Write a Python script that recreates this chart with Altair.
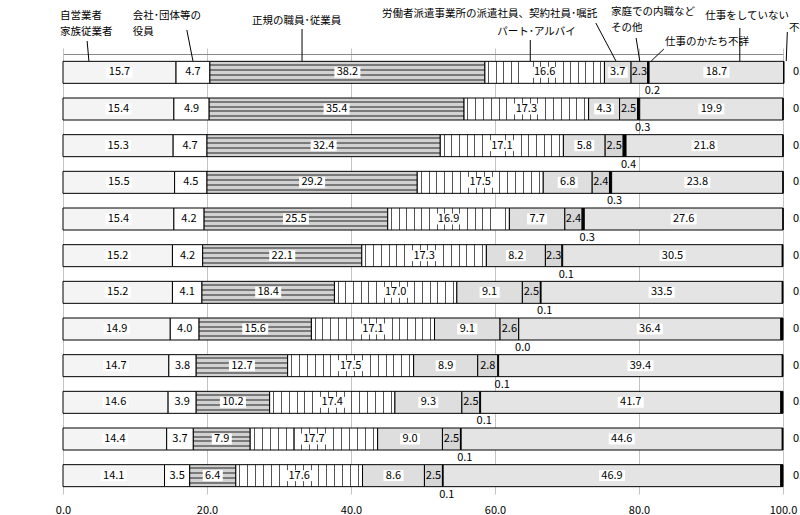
import altair as alt
import pandas as pd

# ---------------- data ----------------
rounds = ["第1回", "第2回", "第3回", "第4回", "第5回", "第6回",
          "第7回", "第8回", "第9回", "第10回", "第11回", "第12回"]
categories = ["自営業者・家族従業者", "会社・団体等の役員", "正規の職員・従業員",
              "パート・アルバイト", "派遣社員・契約社員・嘱託", "家庭での内職など・その他",
              "仕事のかたち不詳", "仕事をしていない", "不詳"]
jiei = [15.7, 15.4, 15.3, 15.5, 15.4, 15.2, 15.2, 14.9, 14.7, 14.6, 14.4, 14.1]
yakuin = [4.7, 4.9, 4.7, 4.5, 4.2, 4.2, 4.1, 4.0, 3.8, 3.9, 3.7, 3.5]
seiki = [38.2, 35.4, 32.4, 29.2, 25.5, 22.1, 18.4, 15.6, 12.7, 10.2, 7.9, 6.4]
part = [16.6, 17.3, 17.1, 17.5, 16.9, 17.3, 17.0, 17.1, 17.5, 17.4, 17.7, 17.6]
haken = [3.7, 4.3, 5.8, 6.8, 7.7, 8.2, 9.1, 9.1, 8.9, 9.3, 9.0, 8.6]
naishoku = [2.3, 2.5, 2.5, 2.4, 2.4, 2.3, 2.5, 2.6, 2.8, 2.5, 2.5, 2.5]
katachi = [0.2, 0.3, 0.4, 0.3, 0.3, 0.1, 0.1, 0.0, 0.1, 0.1, 0.1, 0.1]
mushoku = [18.7, 19.9, 21.8, 23.8, 27.6, 30.5, 33.5, 36.4, 39.4, 41.7, 44.6, 46.9]
fusho = [0.0, 0.0, 0.0, 0.0, 0.0, 0.1, 0.1, 0.3, 0.1, 0.3, 0.1, 0.3]
x_ticks = [0, 20, 40, 60, 80, 100]

series = [jiei, yakuin, seiki, part, haken, naishoku, katachi, mushoku, fusho]

rows = []
for i, rnd in enumerate(rounds):
    cum = 0.0
    for cat, s in zip(categories, series):
        v = s[i]
        rows.append(dict(round=rnd, cat=cat, value=v, start=cum, end=cum + v,
                         mid=cum + v / 2, label=f"{v:.1f}", wide=v >= 10))
        cum += v
df = pd.DataFrame(rows)

FONT = "Noto Sans CJK JP"

# ---------------- fills ----------------
def vstripes(n, w, line, bg):
    stops = [alt.GradientStop(offset=0, color=bg)]
    for k in range(n):
        c = (k + 0.5) / n
        stops += [alt.GradientStop(offset=c - w, color=bg),
                  alt.GradientStop(offset=c - w, color=line),
                  alt.GradientStop(offset=c + w, color=line),
                  alt.GradientStop(offset=c + w, color=bg)]
    stops.append(alt.GradientStop(offset=1, color=bg))
    return alt.LinearGradient(gradient="linear", stops=stops, x1=0, x2=1, y1=0, y2=0)

def hbands(centers, w, line, bg):
    stops = [alt.GradientStop(offset=0, color=bg)]
    for c in centers:
        stops += [alt.GradientStop(offset=c - w, color=bg),
                  alt.GradientStop(offset=c - w, color=line),
                  alt.GradientStop(offset=c + w, color=line),
                  alt.GradientStop(offset=c + w, color=bg)]
    stops.append(alt.GradientStop(offset=1, color=bg))
    return alt.LinearGradient(gradient="linear", stops=stops, x1=0, x2=0, y1=0, y2=1)

fills = {
    categories[0]: "#f4f4f4",
    categories[1]: "#ffffff",
    categories[2]: hbands([0.16, 0.39, 0.61, 0.84], 0.045, "#7a7a7a", "#d2d2d2"),
    categories[3]: vstripes(16, 0.004, "#555555", "#ffffff"),
    categories[4]: "#dedede",
    categories[5]: "#d6d6d6",
    categories[6]: "#000000",
    categories[7]: "#e4e4e4",
    categories[8]: "#000000",
}

# ---------------- encodings ----------------
x_scale = alt.Scale(domain=[0, 100], nice=False, zero=True)
y_scale = alt.Scale(paddingInner=0.4, paddingOuter=0.2)

bottom_axis = alt.Axis(orient="bottom", values=x_ticks, format=".1f", title=None,
                       domain=False, ticks=False, grid=True, gridColor="#c4c4c4",
                       labelFlush=False, labelPadding=10, labelFontSize=11,
                       labelColor="#000", labelFont=FONT)
top_axis = alt.Axis(orient="top", values=x_ticks, title=None, labels=False,
                    domain=True, domainColor="#8a8a8a", ticks=True, tickSize=6,
                    tickColor="#c4c4c4", grid=False)
y_axis = alt.Axis(title=None, ticks=False, domainColor="#8a8a8a", labelPadding=14,
                  labelFontSize=12, labelColor="#000", labelFont=FONT)

y_main = alt.Y("round:N", sort=rounds, scale=y_scale, axis=y_axis)
y_plain = alt.Y("round:N", sort=rounds, axis=None)

base = alt.Chart(df)
layers = []
for k, cat in enumerate(categories):
    if k == 0:
        xe, ye = alt.X("start:Q", scale=x_scale, axis=bottom_axis), y_main
    elif k == 1:
        xe, ye = alt.X("start:Q", axis=top_axis), y_plain
    else:
        xe, ye = alt.X("start:Q", axis=None), y_plain
    layers.append(
        base.transform_filter(alt.datum.cat == cat)
        .mark_bar(fill=fills[cat], stroke="#000", strokeWidth=1)
        .encode(x=xe, x2="end:Q", y=ye)
    )

boxed = [categories[0], categories[2], categories[3], categories[4], categories[7]]
inside = [categories[0], categories[1], categories[2], categories[3],
          categories[4], categories[5], categories[7]]

box_wide = (base.transform_filter(alt.FieldOneOfPredicate(field="cat", oneOf=boxed))
            .transform_filter("datum.wide")
            .mark_point(shape="M-1,-0.42H1V0.42H-1Z", filled=True, fill="#ffffff",
                        opacity=1, size=676, strokeWidth=0)
            .encode(x=alt.X("mid:Q", axis=None), y=y_plain))
box_narrow = (base.transform_filter(alt.FieldOneOfPredicate(field="cat", oneOf=boxed))
              .transform_filter("!datum.wide")
              .mark_point(shape="M-1,-0.55H1V0.55H-1Z", filled=True, fill="#ffffff",
                          opacity=1, size=400, strokeWidth=0)
              .encode(x=alt.X("mid:Q", axis=None), y=y_plain))

txt_style = dict(font=FONT, fontSize=11, color="#000")
val_text = (base.transform_filter(alt.FieldOneOfPredicate(field="cat", oneOf=inside))
            .mark_text(**txt_style)
            .encode(x=alt.X("mid:Q", axis=None), y=y_plain, text="label:N"))
katachi_text = (base.transform_filter(alt.datum.cat == categories[6])
                .mark_text(dy=19, dx=4, **txt_style)
                .encode(x=alt.X("mid:Q", axis=None), y=y_plain, text="label:N"))
fusho_text = (base.transform_filter(alt.datum.cat == categories[8])
              .mark_text(align="left", dx=10, **txt_style)
              .encode(x=alt.XDatum(100, axis=None), y=y_plain, text="label:N"))

# ---------------- annotations (callouts above the chart) ----------------
TOP = 54  # plot top in page pixels
one = pd.DataFrame({"a": [0]})
ann_style = dict(font=FONT, fontSize=10.5, color="#000")
callouts = [
    # lines, x (value), text top (px), align, leader (x1, y1, x2, y2)
    (["自営業者", "家族従業者"], -0.4, 11, "left", (3.35, 41, 3.6, 61)),
    (["会社･団体等の", "役員"], 9.7, 11, "left", (17.2, 30, 18.05, 61)),
    (["正規の職員･従業員"], 26.25, 16, "left", (33.2, 29, 33.2, 61)),
    (["労働者派遣事業所の派遣社員、契約社員･嘱託"], 74.2, 9, "right", (74.0, 23, 76.8, 61)),
    (["パート･アルバイ"], 60.3, 27, "left", (64.9, 40, 64.9, 61)),
    (["家庭での内職など", "その他"], 76.1, 7, "left", (79.6, 38, 80.1, 61)),
    (["仕事のかたち不詳"], 83.6, 37, "left", (83.45, 49, 81.7, 61)),
    (["仕事をしていない"], 89.2, 11, "left", (94.0, 28, 94.0, 61)),
    (["不詳"], 100.85, 23, "left", (100.6, 32, 100.45, 61)),
]
ann = []
for lines, xv, ty, al, (lx1, ly1, lx2, ly2) in callouts:
    ann.append(alt.Chart(one).mark_text(text=lines, align=al, baseline="top",
                                        lineHeight=15.5, **ann_style)
               .encode(x=alt.XDatum(xv, axis=None), y=alt.value(ty - TOP)))
    ann.append(alt.Chart(one).mark_rule(color="#000", strokeWidth=1)
               .encode(x=alt.XDatum(lx1, axis=None), x2=alt.X2Datum(lx2),
                       y=alt.value(ly1 - TOP), y2=alt.value(ly2 - TOP)))

chart = (
    alt.layer(*layers, box_wide, box_narrow, val_text, katachi_text, fusho_text, *ann)
    .resolve_axis(x="independent")
    .properties(width=720, height=440,
                padding={"left": 63, "top": TOP, "right": 17, "bottom": 21},
                autosize=alt.AutoSizeParams(type="none"),
                background="#ffffff")
    .configure_view(stroke=None)
)

chart.save("out.html", embed_options={"renderer": "svg", "actions": False})
